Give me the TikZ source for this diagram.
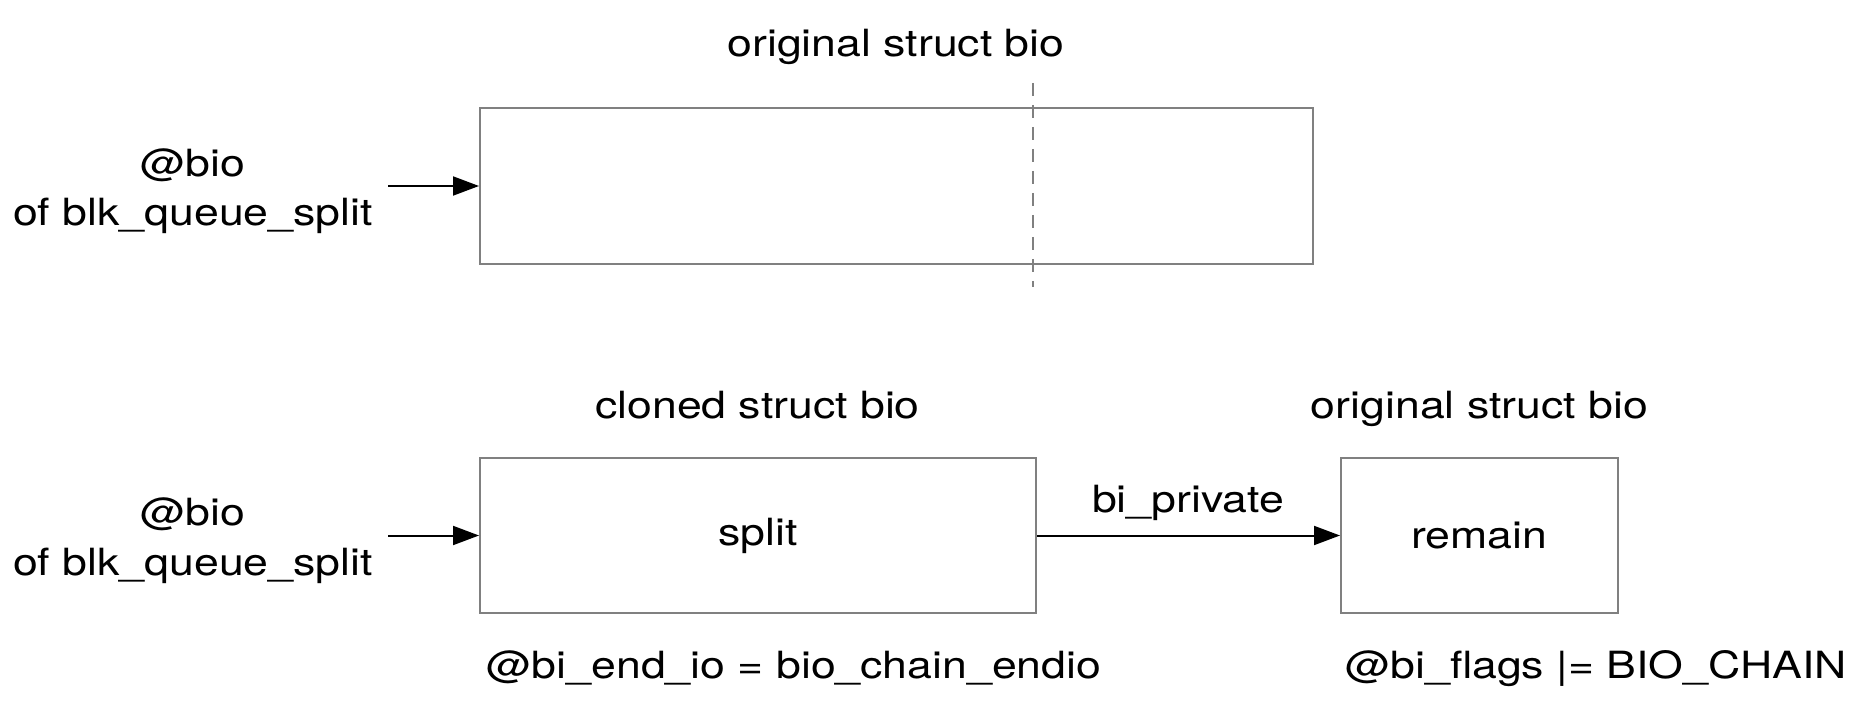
\documentclass[tikz,border=0pt]{standalone}
\usepackage{fontspec}
\setmainfont{TeX Gyre Heros}[FakeStretch=1.19]
\usetikzlibrary{arrows.meta}
\definecolor{boxgray}{RGB}{128,128,128}
\begin{document}
\begin{tikzpicture}[x=1pt,y=-1pt,
  txt/.style={font=\fontsize{37.5}{45}\selectfont, inner sep=0pt, anchor=base},
  box/.style={draw=boxgray, line width=2pt, inner sep=0pt, font=\fontsize{37.5}{45}\selectfont},
  arr/.style={line width=2pt, -{Triangle[length=26pt,width=19pt]}},
  cut/.style={draw=boxgray, line width=2pt, dash pattern=on 13pt off 9pt}
]
\useasboundingbox (0,0) rectangle (1855,708);

% top row
\node[box, minimum width=833pt, minimum height=156pt] (orig) at (896.5,186) {};
\node[txt] (origtitle) at (896,57) {original struct bio};
\node[txt] (lblAa) at (193,177) {@bio};
\node[txt] (lblAb) at (193,226) {of blk\_queue\_split};
\coordinate (inA) at (388,186);
\draw[arr] (inA) -- (orig.west);
\coordinate (cutTop) at (1033,83);
\coordinate (cutBot) at (1033,287);
\draw[cut] (cutTop) -- (cutBot);

% bottom row
\node[box, minimum width=556pt, minimum height=155pt] (split) at (758,535.5) {\raisebox{-2pt}{split}};
\node[box, minimum width=277pt, minimum height=155pt] (remain) at (1479.5,535.5) {remain};
\node[txt] (clonetitle) at (757.5,418) {cloned struct bio};
\node[txt] (origtitle2) at (1479.5,418) {original struct bio};
\node[txt] (lblBa) at (193,525) {@bio};
\node[txt] (lblBb) at (193,575) {of blk\_queue\_split};
\coordinate (inB) at (388,535.5);
\draw[arr] (inB) -- (split.west);
\draw[arr] (split.east) -- (remain.west);
\node[txt] (priv) at (1188,512) {bi\_private};
\node[txt] (endio) at (794,678) {@bi\_end\_io = bio\_chain\_endio};
\node[txt] (flags) at (1596,678) {@bi\_flags |= BIO\_CHAIN};
\end{tikzpicture}
\end{document}
